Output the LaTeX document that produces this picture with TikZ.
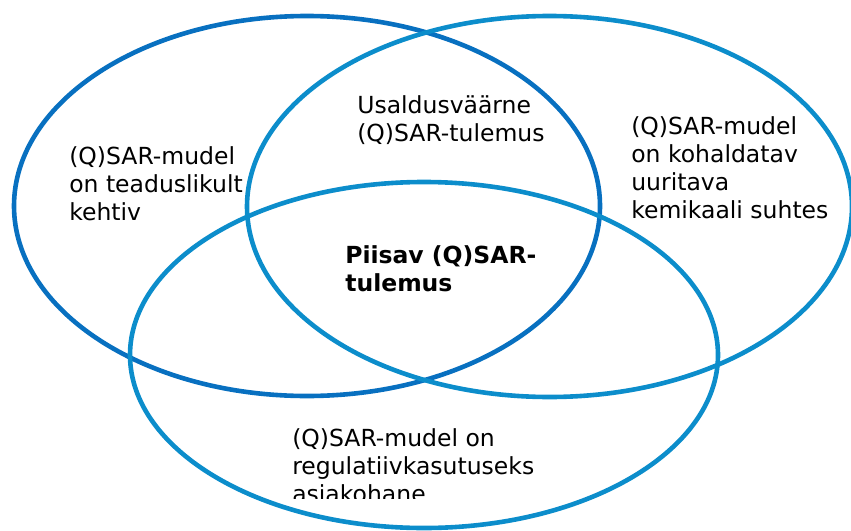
\documentclass[tikz,border=0pt]{standalone}
\usepackage{fontspec}
\setmainfont{DejaVu Sans}
\usetikzlibrary{shapes.geometric}
\definecolor{setdark}{RGB}{8,112,192}
\definecolor{setlight}{RGB}{12,141,203}
\begin{document}
\begin{tikzpicture}[x=1pt, y=-1pt, line width=4.6pt,
  set node/.style={ellipse,draw,inner sep=0pt,outer sep=0pt},
  set label/.style={anchor=north west,align=left,inner sep=0pt,font=\fontsize{23.5}{28}\selectfont}]
\useasboundingbox (0,0) rectangle (851,530);
\begin{scope}[every node/.style={set node}]
\node[draw=setdark,minimum width=586pt,minimum height=380pt] (teadus) at (307,206) {};
\node[draw=setlight,minimum width=605pt,minimum height=381pt] (kohald) at (549.5,206.5) {};
\node[draw=setlight,minimum width=588pt,minimum height=346pt] (regul) at (424,355) {};
\end{scope}
\begin{scope}[every node/.style={set label}]
\node (tTeadus) at (67,144) {(Q)SAR-mudel\\on teaduslikult\\kehtiv};
\node (tUsald) at (355,93) {Usaldusväärne\\(Q)SAR-tulemus};
\node (tKohald) at (629,114) {(Q)SAR-mudel\\on kohaldatav\\uuritava\\kemikaali suhtes};
\node[font=\fontsize{23.5}{28}\selectfont\bfseries] (tPiisav) at (343,243) {Piisav (Q)SAR-\\tulemus};
\begin{scope}
\clip (0,0) rectangle (851,498);
\node (tRegul) at (290,426) {(Q)SAR-mudel on\\regulatiivkasutuseks\\asiakohane};
\end{scope}
\end{scope}
\end{tikzpicture}
\end{document}
